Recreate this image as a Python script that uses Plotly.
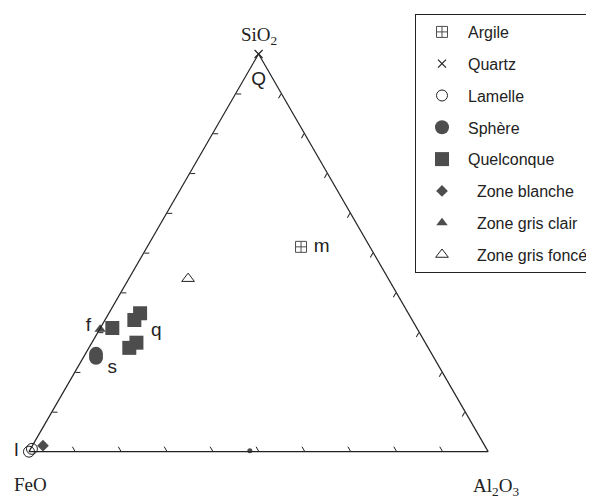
import plotly.graph_objects as go

# Ternary coordinates: a = SiO2 (top), b = FeO (bottom-left), c = Al2O3 (bottom-right)
argile_a = [0.515]
argile_b = [0.150]
argile_c = [0.335]

quartz_a = [1.0]
quartz_b = [0.0]
quartz_c = [0.0]

lamelle_a = [0.0, 0.007]
lamelle_b = [1.0, 0.990]
lamelle_c = [0.0, 0.003]

sphere_a = [0.246, 0.236]
sphere_b = [0.731, 0.736]
sphere_c = [0.023, 0.028]

sphere2_a = [0.002]
sphere2_b = [0.518]
sphere2_c = [0.480]

quelc_a = [0.348, 0.331, 0.311, 0.274, 0.261]
quelc_b = [0.584, 0.605, 0.663, 0.629, 0.651]
quelc_c = [0.068, 0.064, 0.026, 0.097, 0.088]

zblanche_a = [0.015]
zblanche_b = [0.962]
zblanche_c = [0.023]

zclair_a = [0.308]
zclair_b = [0.691]
zclair_c = [0.001]

zfonce_a = [0.435]
zfonce_b = [0.436]
zfonce_c = [0.129]

# point labels
lab_text = ["Q", "m", "q", "s"]
lab_a = [0.935, 0.515, 0.303, 0.209]
lab_b = [0.0325, 0.105, 0.571, 0.714]
lab_c = [0.0325, 0.380, 0.1255, 0.077]

edge_text = ["f  ", "l  "]
edge_a = [0.316, 0.0]
edge_b = [0.684, 1.0]
edge_c = [0.0, 0.0]

names = ["Argile", "Quartz", "Lamelle", "Sphère", "Quelconque",
         "\u00a0\u00a0Zone blanche", "\u00a0\u00a0Zone gris clair", "\u00a0\u00a0Zone gris foncé"]

DARK = "#4d4d4d"
LINE = "#222222"

# the page body adds an 8px offset; figure is sized to fill the rest of the window
W, H = 586, 491
OFF = 8


def px(X):
    return (X - OFF) / W


def py(Y):
    return 1 - (Y - OFF) / H


fig = go.Figure()


def add(a, b, c, name, symbol, size, color, lw=1, group=None, showlegend=True):
    fig.add_trace(go.Scatterternary(
        a=a, b=b, c=c, mode="markers", name=name,
        legendgroup=group or name, showlegend=showlegend,
        cliponaxis=False,
        marker=dict(symbol=symbol, size=size, color=color,
                    line=dict(width=lw, color=color)),
    ))


add(argile_a, argile_b, argile_c, names[0], "square-cross-open", 11, DARK)
add(quartz_a, quartz_b, quartz_c, names[1], "x-thin", 8, LINE, lw=1.2)
add(lamelle_a, lamelle_b, lamelle_c, names[2], "circle-open", 11, LINE)
add(sphere_a, sphere_b, sphere_c, names[3], "circle", 14, DARK, lw=0)
add(sphere2_a, sphere2_b, sphere2_c, names[3], "circle", 5, DARK, lw=0,
    group=names[3], showlegend=False)
add(quelc_a, quelc_b, quelc_c, names[4], "square", 14, DARK, lw=0)
add(zblanche_a, zblanche_b, zblanche_c, names[5], "diamond", 9, DARK, lw=0)
add(zclair_a, zclair_b, zclair_c, names[6], "triangle-up", 10, DARK, lw=0)
add(zfonce_a, zfonce_b, zfonce_c, names[7], "triangle-up-open", 11, LINE)

fig.add_trace(go.Scatterternary(
    a=lab_a, b=lab_b, c=lab_c, mode="text", text=lab_text,
    textposition="middle center", showlegend=False, cliponaxis=False,
    textfont=dict(family="Liberation Sans", size=19, color=LINE),
    hoverinfo="skip",
))
fig.add_trace(go.Scatterternary(
    a=edge_a, b=edge_b, c=edge_c, mode="text", text=edge_text,
    textposition="middle left", showlegend=False, cliponaxis=False,
    textfont=dict(family="Liberation Sans", size=19, color=LINE),
    hoverinfo="skip",
))

axis_common = dict(
    min=0, showgrid=False, showticklabels=False, ticks="inside",
    ticklen=5, tickwidth=1, tickcolor=LINE, tick0=0, dtick=0.1,
    linecolor=LINE, linewidth=1.2, title=dict(text=""),
)

title_font = dict(family="Liberation Serif", size=19, color=LINE)

tri_left, tri_right, tri_bottom = 29, 489, 452
tri_top = tri_bottom - (tri_right - tri_left) * 3 ** 0.5 / 2

fig.update_layout(
    width=W, height=H,
    margin=dict(l=0, r=0, t=0, b=0),
    paper_bgcolor="white",
    plot_bgcolor="white",
    ternary=dict(
        domain=dict(x=[px(tri_left), px(tri_right)], y=[py(tri_bottom), py(tri_top)]),
        bgcolor="white",
        sum=1,
        aaxis=axis_common,
        baxis=axis_common,
        caxis=axis_common,
    ),
    legend=dict(
        x=px(416), y=py(14), xanchor="left", yanchor="top",
        bordercolor=LINE, borderwidth=1, bgcolor="white",
        font=dict(family="Liberation Sans", size=16, color=LINE),
        tracegroupgap=8,
        itemwidth=42,
        itemsizing="trace",
    ),
    showlegend=True,
    annotations=[
        dict(text="SiO<sub>2</sub>", x=px(259), y=py(36), xref="paper", yref="paper",
             xanchor="center", yanchor="middle", showarrow=False, font=title_font),
        dict(text="FeO", x=px(31), y=py(484), xref="paper", yref="paper",
             xanchor="center", yanchor="middle", showarrow=False, font=title_font),
        dict(text="Al<sub>2</sub>O<sub>3</sub>", x=px(497), y=py(487), xref="paper", yref="paper",
             xanchor="center", yanchor="middle", showarrow=False, font=title_font),
    ],
)

fig.write_html("out.html")
